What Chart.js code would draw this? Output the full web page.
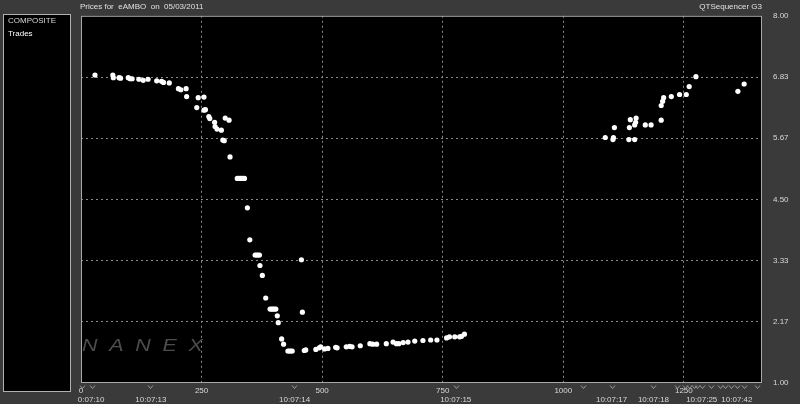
<!DOCTYPE html>
<html>
<head>
<meta charset="utf-8">
<script src="https://cdn.jsdelivr.net/npm/chart.js@4/dist/chart.umd.min.js"></script>
<style>
  html, body { margin:0; padding:0; background:#3a3a3a; width:800px; height:404px; overflow:hidden; }
  #wrap { position:relative; width:800px; height:404px; }
  canvas { position:absolute; left:0; top:0; }
  .txt { position:absolute; font-family:"Liberation Sans", Arial, sans-serif; font-size:8px; color:#e0e0e0; white-space:pre; }
  #panel { position:absolute; left:3px; top:14px; width:66px; height:376px; background:#000; border:1px solid #b0b0b0; }
  #wm { position:absolute; left:82px; top:336px; font-family:"Liberation Sans", Arial, sans-serif; font-style:italic; font-size:16.5px; letter-spacing:9px; color:#4d4d4d; transform:scaleX(1.3); transform-origin:left top; white-space:pre; }
</style>
</head>
<body>
<div id="wrap">
  <canvas id="c" width="800" height="404"></canvas>
  <div id="panel"></div>
  <div class="txt" style="left:8px;top:16px;color:#d8d8d8;">COMPOSITE</div>
  <div class="txt" style="left:8px;top:29px;color:#ffffff;">Trades</div>
  <div class="txt" style="left:80px;top:2px;">Prices for  eAMBO  on  05/03/2011</div>
  <div class="txt" style="right:38px;top:2px;">QTSequencer G3</div>
  <div id="wm">NANEX</div>
</div>
<script>
// ---- data ----
const tradeSeq = [29,66,67,79,82,98,102,106,120,129,139,157,167,171,183,202,207,218,219,240,243,255,255,258,265,267,277,278,282,291,299,307,294,297,309,324,327,330,333,336,339,345,350,361,364,367,370,371,376,383,392,395,398,401,404,407,409,416,420,429,432,435,438,457,459,463,466,487,494,497,505,512,528,531,550,557,562,579,599,605,613,633,647,654,659,668,678,692,709,725,738,758,764,775,785,789,795,1087,1103,1104,1106,1136,1148,1137,1139,1148,1150,1151,1170,1182,1203,1203,1206,1208,1224,1241,1255,1261,1275,1362,1375];
const tradePrice = [6.87,6.87,6.82,6.82,6.81,6.82,6.80,6.80,6.79,6.77,6.79,6.76,6.75,6.73,6.72,6.61,6.59,6.61,6.46,6.25,6.44,6.45,6.20,6.21,6.08,6.04,5.97,5.89,5.84,5.82,6.05,6.01,5.63,5.62,5.31,4.90,4.90,4.90,4.90,4.90,4.90,4.34,3.73,3.44,3.44,3.44,3.44,3.24,3.05,2.62,2.41,2.41,2.41,2.41,2.41,2.28,2.15,1.84,1.74,1.61,1.61,1.61,1.61,3.35,2.35,1.62,1.63,1.64,1.67,1.69,1.65,1.66,1.68,1.67,1.69,1.70,1.69,1.71,1.75,1.74,1.74,1.75,1.78,1.75,1.75,1.77,1.78,1.80,1.81,1.82,1.82,1.86,1.88,1.88,1.88,1.89,1.93,5.68,5.64,5.68,5.87,5.64,5.64,5.87,6.02,5.92,5.97,6.05,5.92,5.92,6.01,6.29,6.37,6.44,6.46,6.50,6.50,6.65,6.84,6.56,6.70];
const seqTicks = [0,250,500,750,1000,1250];
const priceTicks = [1.00,2.1667,3.3333,4.50,5.6667,6.8333,8.00];
const timeTickSeq = [21,145,443,777,1100,1187,1287,1360];
const timeTickLabels = ["0:07:10","10:07:13","10:07:14","10:07:15","10:07:17","10:07:18","10:07:25","10:07:42"];
const markerSeq = [2,23,143,441,777,1040,1100,1187,1236,1253,1261,1270,1278,1288,1307,1324,1336,1348,1361,1375,1402];
const seqMin = 0, seqMax = 1412, priceMin = 1, priceMax = 8;

const points = tradeSeq.map((s,i)=>({x:s, y:tradePrice[i]}));
const tickFont = {family:"Liberation Sans, Arial, sans-serif", size:8};

const framePlugin = {
  id:'frame',
  beforeDraw(chart){
    const {ctx, chartArea:a} = chart;
    ctx.save(); ctx.fillStyle='#000'; ctx.fillRect(a.left,a.top,a.right-a.left,a.bottom-a.top); ctx.restore();
  },
  beforeDatasetsDraw(chart){
    const {ctx, chartArea:a} = chart;
    ctx.save(); ctx.strokeStyle='#a8a8a8'; ctx.lineWidth=1; ctx.setLineDash([]);
    ctx.strokeRect(a.left+0.5,a.top+0.5,a.right-a.left-1,a.bottom-a.top-1);
    // trade markers under the axis
    const xs = chart.scales.x;
    ctx.strokeStyle='#9a9a9a';
    markerSeq.forEach(v=>{
      const px = Math.round(xs.getPixelForValue(v))+0.5;
      const py = a.bottom+2.5;
      ctx.beginPath(); ctx.moveTo(px-2.5,py); ctx.lineTo(px,py+3); ctx.lineTo(px+2.5,py); ctx.stroke();
    });
    ctx.restore();
  }
};

new Chart(document.getElementById('c'), {
  type:'scatter',
  data:{ datasets:[{ data:points, backgroundColor:'#ffffff', borderWidth:0, pointRadius:2.6, pointHoverRadius:2.6 }] },
  options:{
    responsive:false, animation:false, devicePixelRatio:1,
    layout:{ padding:{ left:81, top:15, right:0, bottom:0 } },
    plugins:{ legend:{display:false}, tooltip:{enabled:false}, title:{display:false} },
    scales:{
      x:{
        type:'linear', position:'bottom', min:seqMin, max:seqMax,
        afterBuildTicks(s){ s.ticks = seqTicks.map(v=>({value:v})); },
        afterFit(s){ s.height = 10; },
        border:{display:false, dash:[2,3]},
        grid:{ drawTicks:false, tickLength:0, color:(c)=> (c.tick && c.tick.value>0) ? '#8a8a8a' : 'rgba(0,0,0,0)', lineWidth:1 },
        ticks:{ color:'#d8d8d8', font:tickFont, padding:3, maxRotation:0, autoSkip:false, callback:(v)=>String(v) }
      },
      x2:{
        type:'linear', position:'bottom', min:seqMin, max:seqMax,
        afterBuildTicks(s){ s.ticks = timeTickSeq.map(v=>({value:v})); },
        afterFit(s){ s.height = 11; },
        border:{display:false},
        grid:{ display:false, drawTicks:false },
        ticks:{ color:'#d8d8d8', font:tickFont, padding:2, maxRotation:0, autoSkip:false,
          callback:(v)=>{ const i = timeTickSeq.indexOf(v); return i>=0 ? timeTickLabels[i] : ''; } }
      },
      y:{
        type:'linear', position:'right', min:priceMin, max:priceMax,
        afterBuildTicks(s){ s.ticks = priceTicks.map(v=>({value:v})); },
        afterFit(s){ s.width = 38; },
        border:{display:false, dash:[2,3]},
        grid:{ drawTicks:false, tickLength:0, color:(c)=> (c.tick && c.tick.value>1.01 && c.tick.value<7.99) ? '#8a8a8a' : 'rgba(0,0,0,0)', lineWidth:1 },
        ticks:{ color:'#d8d8d8', font:tickFont, padding:11, callback:(v)=>Number(v).toFixed(2) }
      }
    }
  },
  plugins:[framePlugin]
});
</script>
</body>
</html>
